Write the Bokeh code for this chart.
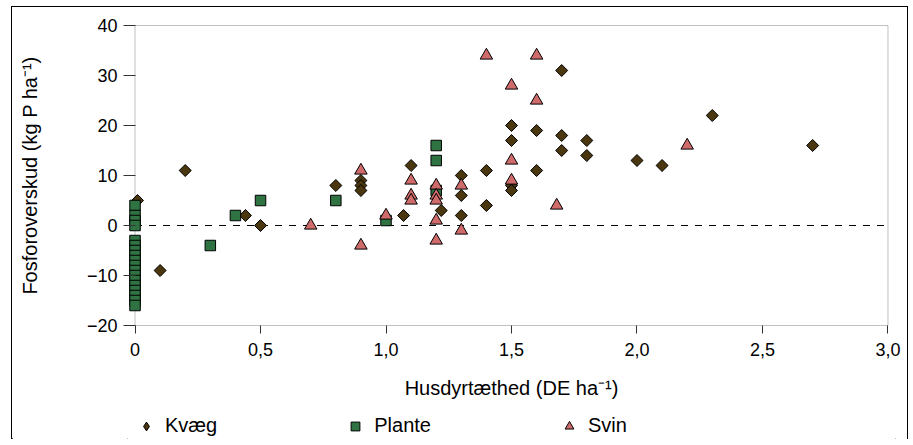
import numpy as np
from bokeh.plotting import figure
from bokeh.layouts import column
from bokeh.models import (Range1d, FixedTicker, BoxAnnotation, Legend, LegendItem,
                          CustomJSTickFormatter)
from bokeh.embed import file_html
from bokeh.resources import INLINE

# ---- data ----
kvaeg_x = [0.01, 0.1, 0.2, 0.44, 0.5, 0.8, 0.9, 0.9, 0.9, 1.07, 1.1, 1.22, 1.3, 1.3, 1.3,
           1.4, 1.4, 1.5, 1.5, 1.5, 1.5, 1.6, 1.6, 1.7, 1.7, 1.7, 1.8, 1.8, 2.0, 2.1, 2.3, 2.7]
kvaeg_y = [5, -9, 11, 2, 0, 8, 9, 8, 7, 2, 12, 3, 10, 6, 2,
           11, 4, 20, 17, 8, 7, 19, 11, 31, 18, 15, 17, 14, 13, 12, 22, 16]

plante_x = [0, 0, 0, 0, 0, 0, 0, 0, 0, 0, 0, 0, 0, 0, 0, 0, 0, 0,
            0.3, 0.4, 0.5, 0.8, 1.0, 1.2, 1.2, 1.2]
plante_y = [4, 2, 1, 0, -3, -4, -5, -6, -7, -8, -9, -10, -11, -12, -13, -14, -15, -16,
            -4, 2, 5, 5, 1, 16, 13, 7]

svin_x = [0.7, 0.9, 0.9, 1.0, 1.1, 1.1, 1.1, 1.2, 1.2, 1.2, 1.2, 1.2, 1.3, 1.3,
          1.4, 1.5, 1.5, 1.5, 1.6, 1.6, 1.68, 2.2]
svin_y = [0, 11, -4, 2, 9, 6, 5, 8, 6, 5, 1, -3, 8, -1,
          34, 28, 13, 9, 34, 25, 4, 16]

series_names = ["Kvæg", "Plante", "Svin"]
x_ticks = [0, 0.5, 1.0, 1.5, 2.0, 2.5, 3.0]
x_tick_labels = ["0", "0,5", "1,0", "1,5", "2,0", "2,5", "3,0"]
y_ticks = [-20, -10, 0, 10, 20, 30, 40]
x_title = "Husdyrtæthed (DE ha⁻¹)"
y_title = "Fosforoverskud (kg P ha⁻¹)"

FONT = "Liberation Sans"
FS_TICK = "18px"
FS_TITLE = "20px"
AXC = "#333333"
STYLES = {
    "Kvæg": dict(marker="square", angle=np.pi / 4, size=8.5, fill_color="#4A3710"),
    "Plante": dict(marker="square", size=10.5, fill_color="#2F7342"),
    "Svin": dict(marker="triangle", size=12.5, fill_color="#D06B6B"),
}
LEGEND_MARKERS = {"Kvæg": "diamond", "Plante": "square", "Svin": "triangle"}

p = figure(width=897, height=405, output_backend="svg", toolbar_location=None,
           x_range=Range1d(-0.03, 3.03), y_range=Range1d(-20.6, 40.6),
           min_border_left=115, min_border_right=12, min_border_top=15,
           min_border_bottom=84)
p.grid.visible = False
p.outline_line_color = None
p.background_fill_color = "white"
p.border_fill_color = "white"

# x axis
xa = p.xaxis[0]
xa.ticker = FixedTicker(ticks=x_ticks)
xa.formatter = CustomJSTickFormatter(args=dict(xt=x_ticks, xl=x_tick_labels), code="""
    const i = xt.findIndex(t => Math.abs(t - tick) < 1e-9);
    return i >= 0 ? xl[i] : String(tick);
""")
xa.axis_line_color = None
xa.major_tick_line_color = AXC
xa.major_tick_out = 5
xa.major_tick_in = 3
xa.minor_tick_line_color = None
xa.major_label_standoff = 9
xa.major_label_text_font = FONT
xa.major_label_text_font_size = FS_TICK
xa.major_label_text_color = "black"
xa.axis_label = x_title
xa.axis_label_text_font = FONT
xa.axis_label_text_font_size = FS_TITLE
xa.axis_label_text_font_style = "normal"
xa.axis_label_text_color = "black"
xa.axis_label_standoff = 18

# y axis
ya = p.yaxis[0]
ya.ticker = FixedTicker(ticks=y_ticks)
ya.axis_line_color = None
ya.major_tick_line_color = AXC
ya.major_tick_in = 8
ya.major_tick_out = 4
ya.minor_tick_line_color = None
ya.major_label_standoff = 6
ya.major_label_text_font = FONT
ya.major_label_text_font_size = FS_TICK
ya.major_label_text_color = "black"
ya.axis_label = y_title
ya.axis_label_text_font = FONT
ya.axis_label_text_font_size = FS_TITLE
ya.axis_label_text_font_style = "normal"
ya.axis_label_text_color = "black"
ya.axis_label_standoff = 43

# plot-area frame (x from 0 to 3, y from -20 to 40)
p.add_layout(BoxAnnotation(left=x_ticks[0], right=x_ticks[-1], bottom=y_ticks[0],
                           top=y_ticks[-1], fill_color=None, fill_alpha=0,
                           line_color=AXC, line_width=1, level="underlay"))
# zero reference line
p.line([x_ticks[0], x_ticks[-1]], [0, 0], line_color="black", line_width=1,
       line_dash="7 7")

series_x = [kvaeg_x, plante_x, svin_x]
series_y = [kvaeg_y, plante_y, svin_y]
for name, xs, ys in zip(series_names, series_x, series_y):
    p.scatter(xs, ys, line_color="black", line_width=1, **STYLES[name])

# legend strip below the chart (proxy renderers lie outside this strip's ranges)
p2 = figure(width=897, height=28, output_backend="svg", toolbar_location=None,
            x_range=Range1d(100, 101), y_range=Range1d(100, 101),
            x_axis_type=None, y_axis_type=None, min_border=0)
p2.grid.visible = False
p2.outline_line_color = None
items = []
for name, xs, ys in zip(series_names, series_x, series_y):
    r = p2.scatter(x=xs[:1], y=ys[:1], marker=LEGEND_MARKERS[name], size=10,
                   fill_color=STYLES[name]["fill_color"], line_color="black",
                   line_width=1)
    items.append(LegendItem(label=name, renderers=[r]))
leg = Legend(items=items, location=(8, 3), orientation="horizontal",
             border_line_color=None, background_fill_alpha=0, padding=0, margin=0,
             spacing=127, glyph_width=22, glyph_height=22, label_standoff=8,
             label_text_font=FONT, label_text_font_size=FS_TITLE,
             label_text_color="black")
p2.add_layout(leg, "center")

layout = column(p, p2, spacing=0, sizing_mode="fixed", width=897, height=433)
layout.margin = (6, 0, 0, 11)
layout.styles = {"border": "1px solid black"}

open("out.html", "w").write(file_html(layout, INLINE))
